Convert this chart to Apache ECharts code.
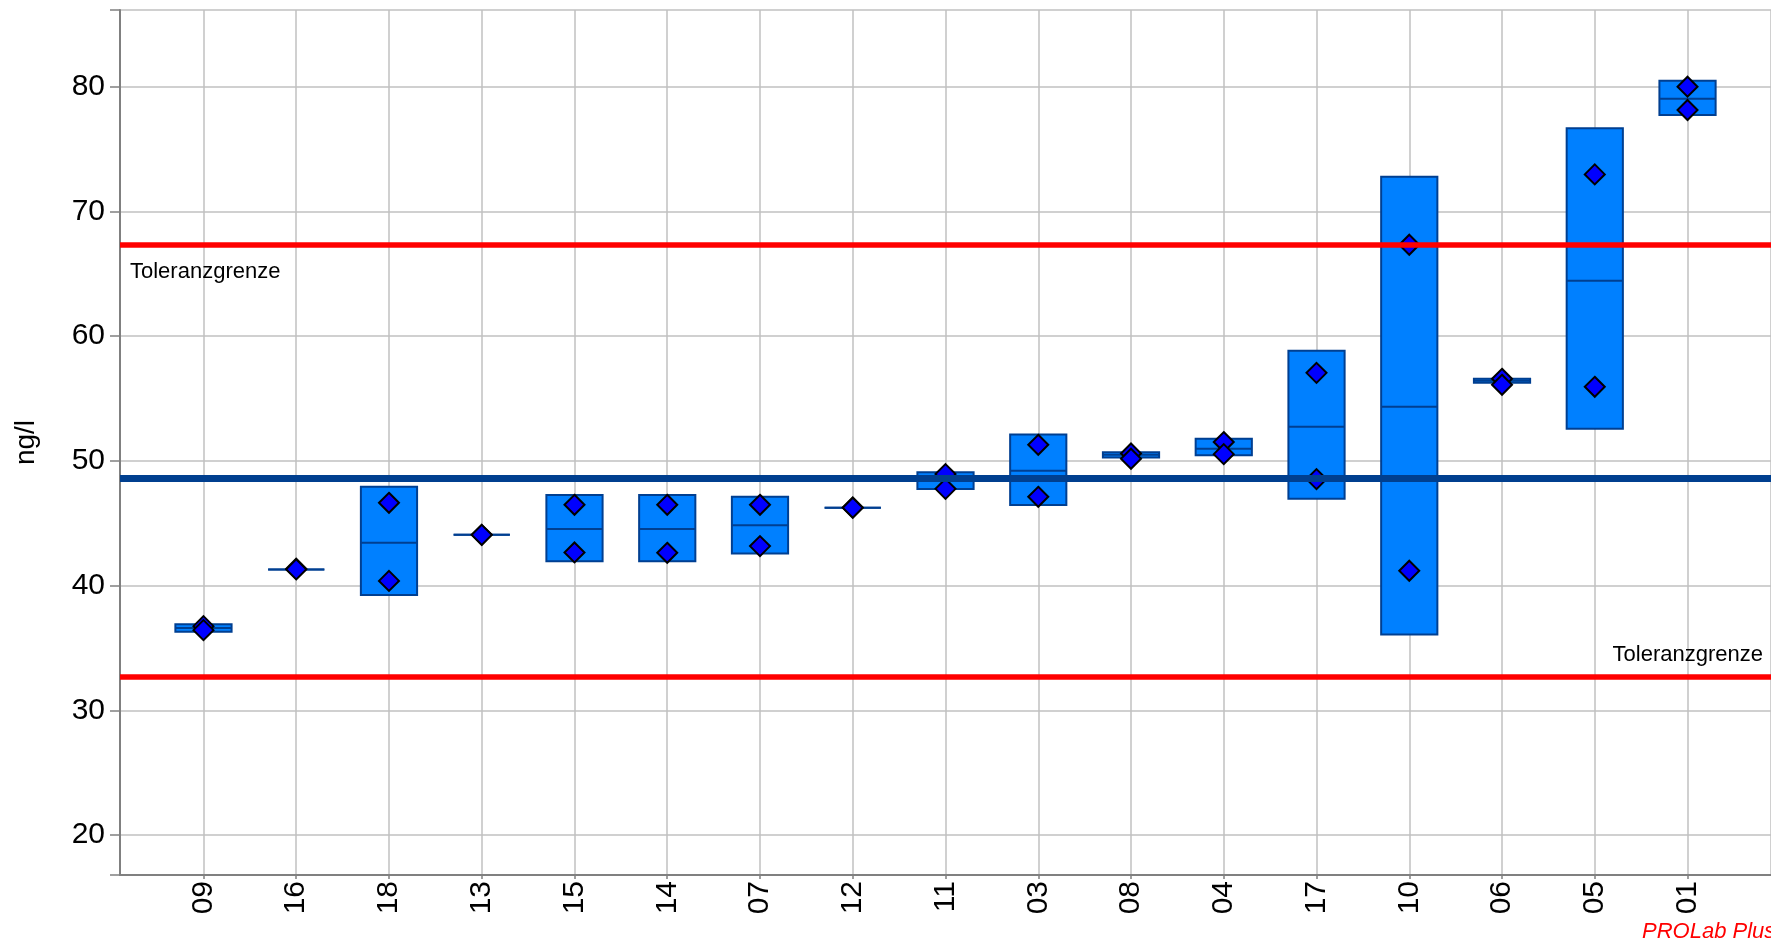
<!DOCTYPE html>
<html>
<head>
<meta charset="utf-8">
<script src="https://cdn.jsdelivr.net/npm/echarts@6/dist/echarts.min.js"></script>
<style>
  html, body { margin: 0; padding: 0; background: #fff; }
  #main { width: 1771px; height: 943px; }
</style>
</head>
<body>
<div id="main"></div>
<script>
// lab codes, sorted by mean
var labs = ['09','16','18','13','15','14','07','12','11','03','08','04','17','10','06','05','01'];
// box bottom / mean / top (ng/l)
var boxLow  = [36.30, 41.30, 39.24, 44.07, 41.96, 41.96, 42.58, 46.24, 47.74, 46.46, 50.28, 50.46, 46.96, 36.09, 56.26, 52.57, 77.73];
var boxMid  = [36.60, 41.30, 43.43, 44.07, 44.55, 44.55, 44.85, 46.24, 48.40, 49.21, 50.49, 50.97, 52.73, 54.34, 56.42, 64.44, 79.04];
var boxHigh = [36.91, 41.30, 47.92, 44.07, 47.26, 47.26, 47.12, 46.24, 49.08, 52.12, 50.70, 51.77, 58.83, 72.78, 56.58, 76.66, 80.48];
// single measurements
var value1 = [36.75, 41.35, 46.64, 44.07, 46.48, 46.48, 46.48, 46.27, 48.94, 51.29, 50.59, 51.51, 57.06, 67.33, 56.58, 72.97, 80.00];
var value2 = [36.43, 41.30, 40.38, 44.07, 42.66, 42.63, 43.17, 46.24, 47.76, 47.12, 50.17, 50.54, 48.54, 41.19, 56.10, 55.94, 78.13];
// reference lines
var assigned = 48.57;
var upperLimit = 67.3;
var lowerLimit = 32.7;

var FONT = '"Liberation Sans", Arial, sans-serif';

var chart = echarts.init(document.getElementById('main'));

var boxData = labs.map(function (lab, i) {
  return [i + 1, boxLow[i], boxMid[i], boxHigh[i]];
});
var pointData = [];
labs.forEach(function (lab, i) {
  pointData.push([i + 1, value1[i]]);
  pointData.push([i + 1, value2[i]]);
});

function renderBox(params, api) {
  var x = api.value(0);
  var lo = api.coord([x, api.value(1)]);
  var mid = api.coord([x, api.value(2)]);
  var hi = api.coord([x, api.value(3)]);
  var half = api.size([1, 0])[0] * 0.303;
  return {
    type: 'group',
    children: [
      {
        type: 'rect',
        shape: { x: lo[0] - half, y: hi[1], width: half * 2, height: lo[1] - hi[1] },
        style: { fill: '#0080ff', stroke: '#003f91', lineWidth: 2 }
      },
      {
        type: 'line',
        shape: { x1: mid[0] - half, y1: mid[1], x2: mid[0] + half, y2: mid[1] },
        style: { stroke: '#003f91', lineWidth: 2 }
      }
    ]
  };
}

var option = {
  animation: false,
  backgroundColor: '#ffffff',
  grid: { left: 120, top: 10, bottom: 68, right: -13.5 },
  xAxis: {
    type: 'value',
    min: 0.1,
    max: 17.9,
    splitNumber: 17,
    minInterval: 1,
    maxInterval: 1,
    axisLine: { show: true, lineStyle: { color: '#808080', width: 2 } },
    axisTick: { show: true, length: 4, lineStyle: { color: '#808080', width: 1.5 } },
    axisLabel: {
      rotate: 90,
      margin: 6,
      color: '#000',
      fontSize: 30,
      fontFamily: FONT,
      showMinLabel: false,
      showMaxLabel: false,
      formatter: function (v) {
        var i = Math.round(v);
        return (Math.abs(v - i) < 1e-6 && i >= 1 && i <= labs.length) ? labs[i - 1] : '';
      }
    },
    splitLine: { show: true, lineStyle: { color: '#c0c0c0', width: 1.5 } }
  },
  yAxis: {
    type: 'value',
    min: 16.8,
    max: 86.15,
    name: 'ng/l',
    nameLocation: 'middle',
    nameRotate: 90,
    nameGap: 80,
    nameTextStyle: { color: '#000', fontSize: 28, fontFamily: FONT },
    axisLine: { show: true, lineStyle: { color: '#808080', width: 2 } },
    axisTick: { show: true, length: 10, lineStyle: { color: '#808080', width: 1.5 } },
    axisLabel: {
      margin: 15,
      color: '#000',
      fontSize: 30,
      fontFamily: FONT,
      formatter: function (v) {
        return Math.abs(v % 10) < 1e-6 ? String(v) : '';
      }
    },
    splitLine: { show: true, lineStyle: { color: '#c0c0c0', width: 1.5 } }
  },
  series: [
    {
      type: 'line',
      data: [],
      z: 1,
      silent: true,
      markLine: {
        silent: true,
        symbol: ['none', 'none'],
        animation: false,
        data: [
          {
            yAxis: upperLimit,
            lineStyle: { color: '#ff0000', width: 5.5, type: 'solid' },
            label: {
              show: true, formatter: 'Toleranzgrenze', position: 'insideStartBottom',
              distance: [10, 16], color: '#000', fontSize: 22, fontFamily: FONT
            }
          },
          {
            yAxis: lowerLimit,
            lineStyle: { color: '#ff0000', width: 5.5, type: 'solid' },
            label: {
              show: true, formatter: 'Toleranzgrenze', position: 'insideEndTop',
              distance: [8, 11], color: '#000', fontSize: 22, fontFamily: FONT
            }
          },
          {
            yAxis: assigned,
            lineStyle: { color: '#003f8f', width: 7, type: 'solid' },
            label: { show: false }
          }
        ]
      }
    },
    {
      type: 'custom',
      z: 2,
      renderItem: renderBox,
      encode: { x: 0, y: [1, 2, 3] },
      data: boxData
    },
    {
      type: 'scatter',
      z: 3,
      symbol: 'diamond',
      symbolSize: 20,
      itemStyle: { color: '#0000ff', borderColor: '#000000', borderWidth: 2, opacity: 1 },
      data: pointData
    }
  ],
  graphic: [
    {
      type: 'text',
      left: 1642,
      top: 921,
      style: {
        text: 'PROLab Plus',
        fill: '#ff0000',
        font: 'italic 22px "Liberation Sans", Arial, sans-serif'
      }
    }
  ]
};

chart.setOption(option);
</script>
</body>
</html>
